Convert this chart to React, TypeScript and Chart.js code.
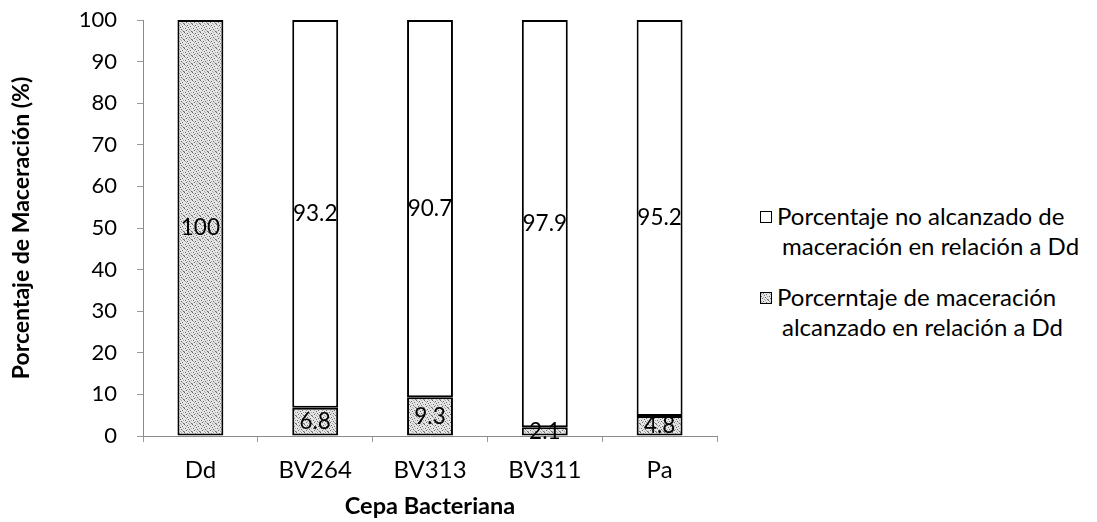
import React, { useEffect, useRef } from "react";
import { Chart, registerables } from "chart.js";

Chart.register(...registerables);

const categories = ["Dd", "BV264", "BV313", "BV311", "Pa"];
const reachedValues = [100, 6.8, 9.3, 2.1, 4.8];
const notReachedValues = [0, 93.2, 90.7, 97.9, 95.2];
const reachedLabel = "Porcerntaje de maceración alcanzado en relación a Dd";
const notReachedLabel = "Porcentaje no alcanzado de maceración en relación a Dd";
const legendItems = [
  { lines: ["Porcentaje no alcanzado de", "maceración en relación a Dd"], patterned: false },
  { lines: ["Porcerntaje de maceración", "alcanzado en relación a Dd"], patterned: true },
];
const xTitle = "Cepa Bacteriana";
const yTitle = "Porcentaje de Maceración (%)";
const yMin = 0;
const yMax = 100;
const yStep = 10;

const FONT = "Lato, 'Open Sans', sans-serif";

function makePattern(): CanvasPattern | string {
  const c = document.createElement("canvas");
  c.width = 8;
  c.height = 8;
  const ctx = c.getContext("2d");
  if (!ctx) return "#cccccc";
  ctx.fillStyle = "#e6e6e6";
  ctx.fillRect(0, 0, 8, 8);
  ctx.fillStyle = "#6a6a6a";
  const dots = [
    [0, 0], [3, 1], [6, 2], [1, 4], [5, 5], [2, 6], [7, 7], [4, 3],
  ];
  dots.forEach(([x, y]) => ctx.fillRect(x, y, 1, 1));
  ctx.fillStyle = "#a8a8a8";
  [[1, 1], [5, 0], [7, 4], [3, 5], [0, 7], [4, 7], [6, 6], [2, 2]].forEach(([x, y]) => ctx.fillRect(x, y, 1, 1));
  const p = ctx.createPattern(c, "repeat");
  return p || "#cccccc";
}

const segLabels = {
  id: "segLabels",
  afterDatasetsDraw(chart: any) {
    const ctx = chart.ctx;
    ctx.save();
    ctx.font = `22.5px ${FONT}`;
    ctx.fillStyle = "#000";
    ctx.textAlign = "center";
    ctx.textBaseline = "middle";
    chart.data.datasets.forEach((ds: any, di: number) => {
      const meta = chart.getDatasetMeta(di);
      meta.data.forEach((el: any, i: number) => {
        const v = ds.data[i];
        if (!v) return;
        const { x, y, base } = el.getProps(["x", "y", "base"], true);
        ctx.fillText(String(v), x, (y + base) / 2);
      });
    });
    ctx.restore();
  },
};

export default function App() {
  const canvasRef = useRef<HTMLCanvasElement | null>(null);
  const swatchRef = useRef<HTMLCanvasElement | null>(null);

  useEffect(() => {
    if (!canvasRef.current) return;
    const pattern = makePattern();
    Chart.defaults.font.family = FONT;
    Chart.defaults.color = "#000";

    if (swatchRef.current) {
      const sctx = swatchRef.current.getContext("2d");
      if (sctx) {
        sctx.fillStyle = pattern as any;
        sctx.fillRect(0, 0, 12, 12);
        sctx.strokeStyle = "#000";
        sctx.lineWidth = 1;
        sctx.strokeRect(0.5, 0.5, 11, 11);
      }
    }

    const chart = new Chart(canvasRef.current, {
      type: "bar",
      data: {
        labels: categories,
        datasets: [
          {
            label: reachedLabel,
            data: reachedValues,
            backgroundColor: pattern as any,
            borderColor: "#000",
            borderWidth: 2,
            borderSkipped: false,
            barPercentage: 0.4,
            categoryPercentage: 1,
          },
          {
            label: notReachedLabel,
            data: notReachedValues,
            backgroundColor: "#ffffff",
            borderColor: "#000",
            borderWidth: (c: any) => (c.raw ? 2 : 0),
            borderSkipped: false,
            barPercentage: 0.4,
            categoryPercentage: 1,
          },
        ],
      },
      options: {
        responsive: false,
        animation: false,
        layout: { padding: { left: 0, top: 20, right: 23, bottom: 0 } },
        plugins: {
          legend: { display: false },
          tooltip: { enabled: false },
        },
        scales: {
          x: {
            stacked: true,
            grid: {
              display: true,
              drawOnChartArea: false,
              drawTicks: true,
              tickLength: 6,
              color: "#9a9a9a",
            },
            border: { display: true, color: "#8a8a8a", dash: [2, 2], width: 1 },
            ticks: { font: { size: 24 }, padding: 14, color: "#000" },
            title: {
              display: true,
              text: xTitle,
              font: { size: 23.5, weight: "bold" },
              padding: { top: 4, bottom: 1 },
              color: "#000",
            },
            afterFit: (s: any) => {
              s.height = 86;
            },
          },
          y: {
            stacked: true,
            min: yMin,
            max: yMax,
            ticks: { stepSize: yStep, font: { size: 22 }, padding: 20, color: "#000" },
            grid: {
              display: true,
              drawOnChartArea: false,
              drawTicks: true,
              tickLength: 6,
              color: "#9a9a9a",
            },
            border: { display: true, color: "#8a8a8a", dash: [2, 2], width: 1 },
            title: {
              display: true,
              text: yTitle,
              font: { size: 23, weight: "bold" },
              padding: { top: 8, bottom: 0 },
              color: "#000",
            },
            afterFit: (s: any) => {
              s.width = 143;
              s.paddingTop = 0;
              s.paddingBottom = 0;
            },
          },
        },
      },
      plugins: [segLabels],
    });
    return () => chart.destroy();
  }, []);

  const itemTops = [201, 282];

  return (
    <div
      style={{
        position: "absolute",
        left: 0,
        top: 0,
        width: 1097,
        height: 522,
        background: "#fff",
        overflow: "hidden",
        fontFamily: FONT,
      }}
    >
      <canvas ref={canvasRef} width={740} height={522} style={{ position: "absolute", left: 0, top: 0 }} />
      {legendItems.map((it, idx) => (
        <div
          key={idx}
          style={{ position: "absolute", left: 760, top: itemTops[idx], display: "flex", alignItems: "flex-start" }}
        >
          {it.patterned ? (
            <canvas
              ref={swatchRef}
              width={12}
              height={12}
              style={{ display: "block", marginTop: 10, width: 12, height: 12 }}
            />
          ) : (
            <div
              style={{
                width: 10,
                height: 10,
                marginTop: 10,
                border: "1px solid #000",
                background: "#fff",
              }}
            />
          )}
          <div style={{ marginLeft: 5, fontSize: 24, lineHeight: "30px", color: "#000", whiteSpace: "nowrap" }}>
            <div>{it.lines[0]}</div>
            <div style={{ paddingLeft: 5 }}>{it.lines[1]}</div>
          </div>
        </div>
      ))}
    </div>
  );
}
